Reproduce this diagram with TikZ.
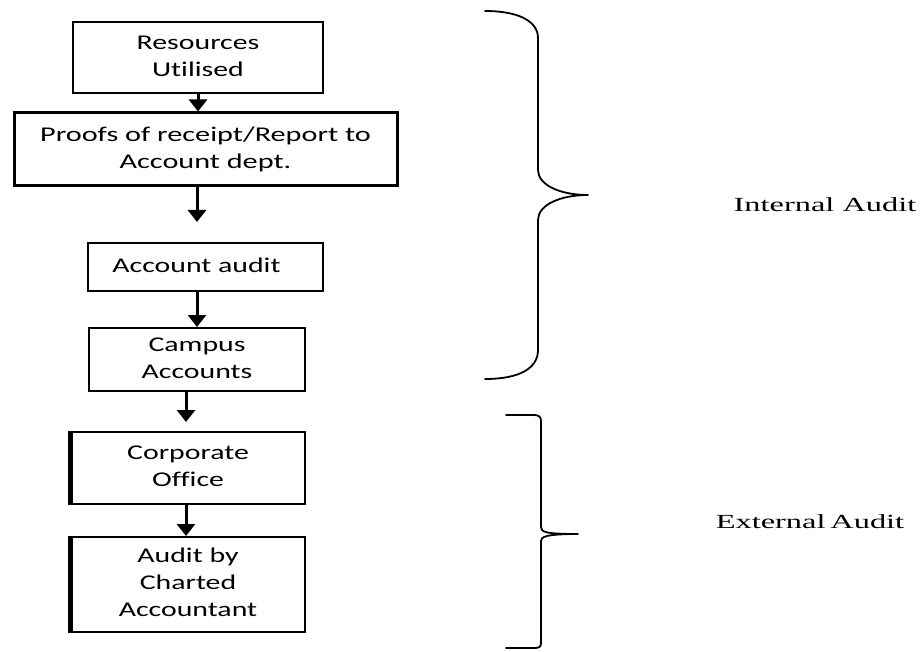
\documentclass[tikz,border=0pt]{standalone}
\usepackage{fontspec}
\usepackage{graphicx}
\setmainfont{Liberation Serif}
\newfontfamily\boxfont[Ligatures=NoCommon]{Carlito}
\newfontfamily\labfont{Liberation Serif}
\usetikzlibrary{arrows.meta}
\newcommand{\widetext}[2]{\scalebox{#1}[1]{\begin{tabular}{@{}c@{}}#2\end{tabular}}}
\tikzset{
  box/.style={draw, line width=2pt, align=center, inner sep=0pt,
    font=\boxfont\fontsize{21}{27}\selectfont},
  thickbox/.style={box, line width=3pt},
  leftedge/.style={line width=5pt},
  arr/.style={line width=3pt, -{Triangle[width=18pt,length=12pt]}},
  brace/.style={line width=1.8pt, line cap=round, line join=round},
  lab/.style={font=\labfont\fontsize{20}{24}\selectfont, inner sep=0pt}
}
\begin{document}
\begin{tikzpicture}[x=1pt,y=-1pt]
\useasboundingbox (0,0) rectangle (923,652);
\node[box, minimum width=250pt, minimum height=71pt] (b1) at (198,57.5) {\widetext{1.42}{Resources\\Utilised}};
\node[thickbox, minimum width=383pt, minimum height=73pt] (b2) at (205.5,149.5) {\widetext{1.44}{Proofs of receipt/Report to\\Account dept.}};
\node[box, minimum width=235pt, minimum height=48pt] (b3) at (205.5,267) {\hspace*{-18pt}\widetext{1.42}{Account audit}};
\node[box, minimum width=216pt, minimum height=63pt] (b4) at (197,359.5) {\widetext{1.42}{Campus\\Accounts}};
\node[box, minimum width=234pt, minimum height=72pt] (b5) at (188,468) {\widetext{1.42}{Corporate\\Office}};
\node[box, minimum width=234pt, minimum height=95pt] (b6) at (188,584.5) {\widetext{1.42}{Audit by\\Charted\\Accountant}};
\draw[leftedge] (b5.north west) -- (b5.south west);
\draw[leftedge] (b6.north west) -- (b6.south west);
\coordinate (t2) at (197,222);
\coordinate (t4) at (186,422);
\draw[arr] (b1.south) -- (b1.south |- b2.north);
\draw[arr] (b2.south -| t2) -- (t2);
\draw[arr] (b3.south -| t2) -- (t2 |- b4.north);
\draw[arr] (b4.south -| t4) -- (t4);
\draw[arr] (b5.south -| t4) -- (t4 |- b6.north);
\draw[brace] (485,11) .. controls (520,11) and (538,22) .. (538,38) -- (538,170)
  .. controls (538,185) and (560,195) .. (588,195)
  .. controls (560,195) and (538,205) .. (538,220) -- (538,350)
  .. controls (538,368) and (520,379) .. (485,379);
\draw[brace] (506,415) -- (534,415) .. controls (539,415) and (541,417) .. (541,421) -- (541,527)
  .. controls (541,532) and (545,534) .. (578,534)
  .. controls (545,534) and (541,537) .. (541,541) -- (541,643)
  .. controls (541,647) and (539,648) .. (534,648) -- (506,648);
\node[lab] (ia) at (825,205) {\scalebox{1.62}[1]{Internal Audit}};
\node[lab] (ea) at (810,522) {\scalebox{1.62}[1]{External\hspace{-2pt} Audit}};
\end{tikzpicture}
\end{document}
